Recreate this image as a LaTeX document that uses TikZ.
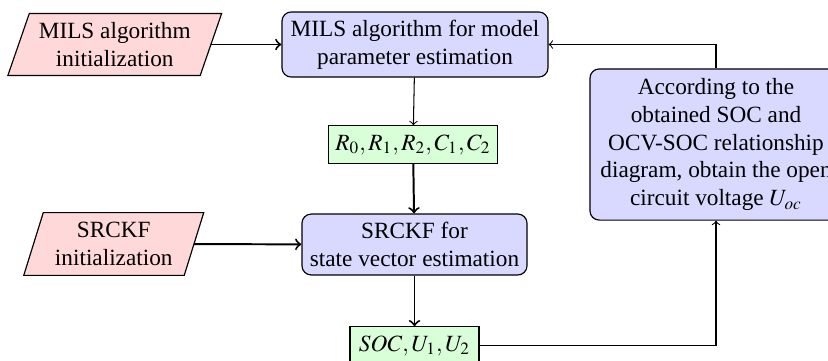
\documentclass[tikz,border=0pt]{standalone}
\usepackage{mathptmx}
\usepackage{fontspec}
\setmainfont{Liberation Serif}
\usetikzlibrary{arrows,backgrounds}
\tikzset{
  iotext/.style={rectangle, align=center, inner sep=1pt},
  iofill/.style={draw, line width=0.5pt, fill=red!15},
  procbox/.style={rectangle, rounded corners=4pt, draw, line width=0.5pt, fill=blue!15, align=center, inner sep=2pt},
  databox/.style={rectangle, draw, line width=0.5pt, fill=green!15, align=center, inner sep=2pt},
  flowthick/.style={->, line width=0.85pt},
  flowthin/.style={->, line width=0.45pt},
}
\newcommand{\paragram}[2]{%
  \draw[iofill] ([xshift=-#2]#1.south west) -- ([xshift=-#2]#1.south east) -- ([xshift=#2]#1.north east) -- ([xshift=#2]#1.north west) -- cycle;}
\begin{document}
\begin{tikzpicture}[x=0.43pt,y=-0.43pt]
\clip (0,0) rectangle (828,360);
\useasboundingbox (0,0) rectangle (828,360);
\node[iotext, minimum width=82.3pt, minimum height=26.2pt] (p1) at (114.75,44.5) {MILS algorithm\\initialization};
\node[procbox, minimum width=114.4pt, minimum height=28pt] (b1) at (415,44.5) {MILS algorithm for model\\parameter estimation};
\node[databox, minimum width=72.5pt, minimum height=16pt] (g1) at (413,144.5) {$R_0,R_1,R_2,C_1,C_2$};
\node[iotext, minimum width=68.6pt, minimum height=26.6pt] (p2) at (113.75,244) {SRCKF\\initialization};
\node[procbox, minimum width=96.8pt, minimum height=26.2pt] (b2) at (414.5,244.5) {SRCKF for\\state vector estimation};
\node[databox, minimum width=55.5pt, minimum height=16pt] (g2) at (414.5,345.5) {$SOC,U_1,U_2$};
\node[procbox, minimum width=108.4pt, minimum height=65pt] (r) at (716,144.5) {According to the\\obtained SOC and\\OCV-SOC relationship\\diagram, obtain the open\\circuit voltage $U_{oc}$};
\begin{scope}[on background layer]
\paragram{p1}{4.6pt}
\paragram{p2}{4.2pt}
\end{scope}
\draw[flowthick] (p1) -- (b1);
\draw[flowthin] (b1) -- (g1);
\draw[flowthick] (g1) -- (b2);
\draw[flowthick] (p2) -- (b2);
\draw[flowthick] (b2) -- (g2);
\draw[flowthin] (g2) -| (r);
\draw[flowthin] (r) |- (b1);
\end{tikzpicture}
\end{document}
